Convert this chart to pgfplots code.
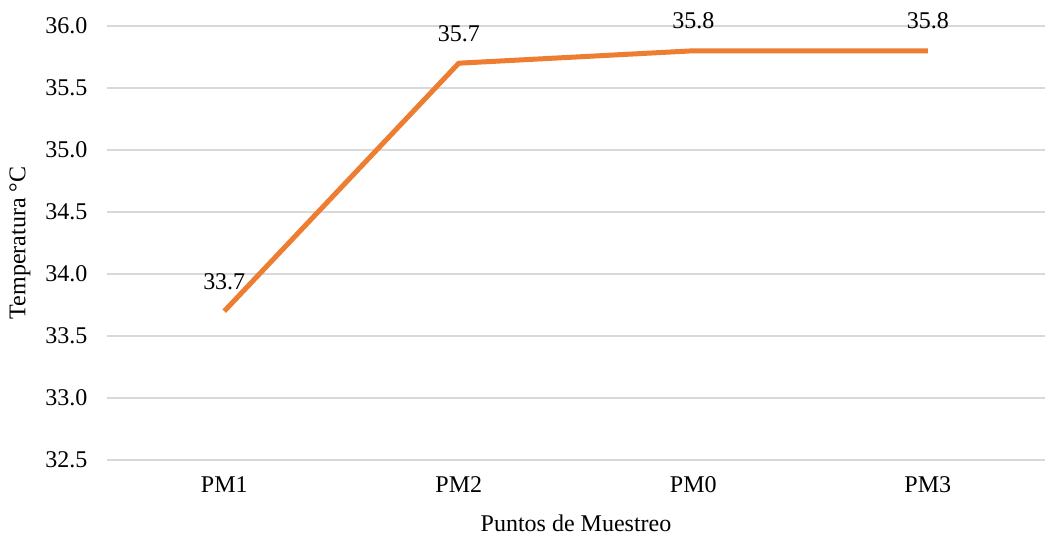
\documentclass[border=0pt]{standalone}
\usepackage{pgfplots}
\pgfplotsset{compat=1.18}
\usepackage{fontspec}
\setmainfont{Liberation Serif}
\definecolor{lineorange}{HTML}{ED7D31}
\definecolor{gridgray}{HTML}{D9D9D9}
\newcommand{\chartfont}{\fontsize{24}{28}\selectfont}
\begin{document}
\begin{tikzpicture}[x=1pt,y=1pt]
\useasboundingbox (0,0) rectangle (1047,538);
\begin{axis}[
  at={(107pt,78pt)}, anchor=south west,
  scale only axis, width=938pt, height=434pt,
  xmin=-0.5, xmax=3.5, ymin=32.5, ymax=36.0,
  xtick={0,1,2,3}, xticklabels={PM1,PM2,PM0,PM3},
  ytick={32.5,33,...,36},
  /pgf/number format/fixed,
  /pgf/number format/fixed zerofill,
  /pgf/number format/precision=1,
  /pgf/number format/assume math mode=true,
  axis line style={draw=none},
  major tick length=0pt,
  ymajorgrids, grid style={gridgray, line width=1.5pt},
  ticklabel style={font=\chartfont, text=black},
  yticklabel style={xshift=-16pt},
  xticklabel style={yshift=-13pt},
  xlabel={Puntos de Muestreo}, ylabel={Temperatura °C},
  label style={font=\chartfont},
  xlabel style={at={(rel axis cs:0.5,0)}, anchor=center, yshift=-63pt},
  ylabel style={at={(rel axis cs:0,0.5)}, anchor=center, yshift=87pt},
  clip=false,
]
\addplot[lineorange, line width=5pt, line join=round,
  nodes near coords, point meta=explicit symbolic,
  every node near coord/.style={font=\chartfont, text=black, anchor=south, yshift=16pt}]
  table[meta=lab] {
  x y lab
  0 33.7 33.7
  1 35.7 35.7
  2 35.8 35.8
  3 35.8 35.8
  };
\end{axis}
\end{tikzpicture}
\end{document}
